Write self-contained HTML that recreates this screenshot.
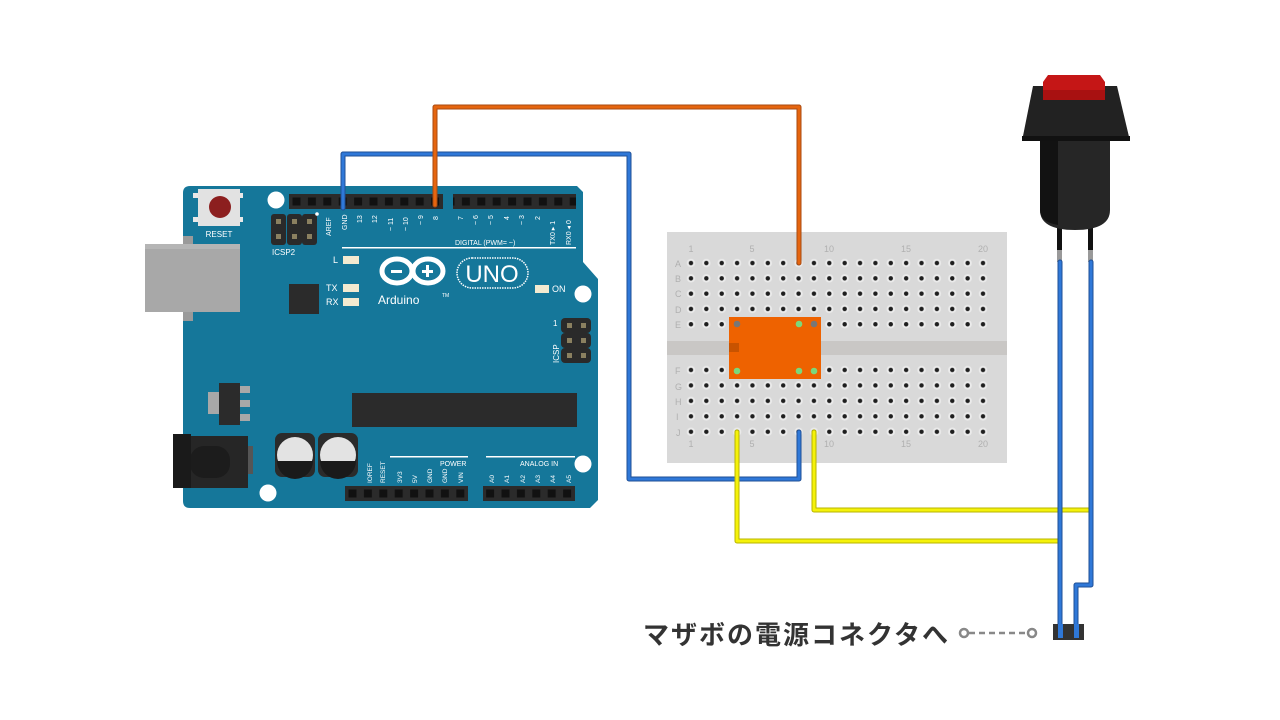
<!DOCTYPE html>
<html><head><meta charset="utf-8"><style>
html,body{margin:0;padding:0;background:#fff;}
svg{display:block}
text{font-family:"Liberation Sans",sans-serif}
</style></head><body>
<svg width="1280" height="720" viewBox="0 0 1280 720" xmlns="http://www.w3.org/2000/svg">
<defs>
<pattern id="hole" patternUnits="userSpaceOnUse" x="683.3" y="255.4" width="15.37" height="15.3">
<circle cx="7.68" cy="7.65" r="4.2" fill="#ebebeb"/><circle cx="7.68" cy="7.65" r="2.2" fill="#1e1e1e"/>
</pattern>
<pattern id="hole2" patternUnits="userSpaceOnUse" x="683.3" y="362.3" width="15.37" height="15.45">
<circle cx="7.68" cy="7.7" r="4.2" fill="#ebebeb"/><circle cx="7.68" cy="7.7" r="2.2" fill="#1e1e1e"/>
</pattern>
<pattern id="pin" patternUnits="userSpaceOnUse" x="289" y="194" width="15.4" height="15">
<rect x="3.5" y="3.5" width="8" height="8" fill="#111"/>
</pattern>
<pattern id="pinb" patternUnits="userSpaceOnUse" x="345" y="486" width="15.4" height="15">
<rect x="3.5" y="3.5" width="8" height="8" fill="#111"/>
</pattern>
</defs>

<!-- Arduino board -->
<path d="M190 186 H577 L583 192 V262 L598 279 V500 L590 508 H190 Q183 508 183 501 V193 Q183 186 190 186 Z" fill="#15779a"/>
<rect x="183" y="236" width="10" height="85" fill="#9a9a9a"/>
<rect x="145" y="244" width="95" height="68" fill="#a8a8a8"/>
<rect x="145" y="244" width="95" height="5" fill="#b5b5b5"/>

<circle cx="276" cy="200" r="8.5" fill="#fff"/>
<circle cx="583" cy="294" r="8.5" fill="#fff"/>
<circle cx="583" cy="464" r="8.5" fill="#fff"/>
<circle cx="268" cy="493" r="8.5" fill="#fff"/>

<rect x="193" y="193" width="5" height="5" fill="#e8e8e8"/><rect x="193" y="217" width="5" height="5" fill="#e8e8e8"/>
<rect x="238" y="193" width="5" height="5" fill="#e8e8e8"/><rect x="238" y="217" width="5" height="5" fill="#e8e8e8"/>
<rect x="198" y="189" width="42" height="37" fill="#e2e2e2"/>
<circle cx="220" cy="207" r="11" fill="#8c1f1f"/>
<text x="219" y="237" font-size="8" fill="#fff" text-anchor="middle">RESET</text>

<rect x="271" y="214" width="15" height="31" rx="3" fill="#2a2a2a"/>
<rect x="287" y="214" width="15" height="31" rx="3" fill="#2a2a2a"/>
<rect x="302" y="214" width="15" height="31" rx="3" fill="#2a2a2a"/>
<g fill="#8a8060"><rect x="276" y="219" width="5" height="5"/><rect x="292" y="219" width="5" height="5"/><rect x="307" y="219" width="5" height="5"/><rect x="276" y="234" width="5" height="5"/><rect x="292" y="234" width="5" height="5"/><rect x="307" y="234" width="5" height="5"/></g>
<circle cx="317" cy="214" r="1.8" fill="#fff"/>
<text x="272" y="255" font-size="8" fill="#fff">ICSP2</text>

<rect x="289" y="194" width="154" height="15" fill="#2b2b2b"/>
<rect x="289" y="194" width="154" height="15" fill="url(#pin)"/>
<rect x="453" y="194" width="123" height="15" fill="#2b2b2b"/>
<rect x="453" y="194" width="123" height="15" fill="url(#pin)" />
<g font-size="7" fill="#fff">
<text transform="translate(331,236) rotate(-90)">AREF</text>
<text transform="translate(347,230) rotate(-90)">GND</text>
<text transform="translate(362,223) rotate(-90)">13</text>
<text transform="translate(377,223) rotate(-90)">12</text>
<text transform="translate(393,231) rotate(-90)">~ 11</text>
<text transform="translate(408,231) rotate(-90)">~ 10</text>
<text transform="translate(423,225) rotate(-90)">~ 9</text>
<text transform="translate(438,220) rotate(-90)">8</text>
<text transform="translate(463,220) rotate(-90)">7</text>
<text transform="translate(478,225) rotate(-90)">~ 6</text>
<text transform="translate(493,225) rotate(-90)">~ 5</text>
<text transform="translate(509,220) rotate(-90)">4</text>
<text transform="translate(524,225) rotate(-90)">~ 3</text>
<text transform="translate(540,220) rotate(-90)">2</text>
<text transform="translate(555,245) rotate(-90)">TX0 ▸ 1</text>
<text transform="translate(571,245) rotate(-90)">RX0 ◂ 0</text>
<text x="455" y="245">DIGITAL (PWM=  ~)</text>
</g>
<rect x="342" y="247" width="234" height="1.5" fill="#fff"/>

<g font-size="9" fill="#fff"><text x="333" y="263">L</text><text x="326" y="291">TX</text><text x="326" y="305">RX</text><text x="552" y="292">ON</text></g>
<g fill="#f3ead0"><rect x="343" y="256" width="16" height="8"/><rect x="343" y="284" width="16" height="8"/><rect x="343" y="298" width="16" height="8"/><rect x="535" y="285" width="14" height="8"/></g>
<rect x="289" y="284" width="30" height="30" fill="#2b2b2b"/>

<g fill="none" stroke="#fff" stroke-width="5">
<ellipse cx="397" cy="271" rx="15" ry="12"/><ellipse cx="428" cy="271" rx="15" ry="12"/>
</g>
<rect x="391" y="270" width="11" height="3" fill="#fff"/>
<rect x="422" y="270" width="11" height="3" fill="#fff"/><rect x="426" y="265" width="3" height="12" fill="#fff"/>
<text x="378" y="304" font-size="12" fill="#fff">Arduino</text>
<text x="442" y="297" font-size="5" fill="#fff">TM</text>
<rect x="457" y="258" width="71" height="30" rx="15" fill="none" stroke="#fff" stroke-width="1.5" stroke-dasharray="1.5 1"/>
<text x="492" y="282" font-size="24" fill="#fff" text-anchor="middle">UNO</text>

<rect x="561" y="318" width="30" height="15" rx="4" fill="#2a2a2a"/>
<rect x="561" y="333" width="30" height="15" rx="4" fill="#2a2a2a"/>
<rect x="561" y="348" width="30" height="15" rx="4" fill="#2a2a2a"/>
<g fill="#8a8060"><rect x="567" y="323" width="5" height="5"/><rect x="581" y="323" width="5" height="5"/><rect x="567" y="338" width="5" height="5"/><rect x="581" y="338" width="5" height="5"/><rect x="567" y="353" width="5" height="5"/><rect x="581" y="353" width="5" height="5"/></g>
<text x="553" y="326" font-size="8" fill="#fff">1</text>
<text transform="translate(559,363) rotate(-90)" font-size="8" fill="#fff">ICSP</text>

<rect x="352" y="393" width="225" height="34" fill="#2b2b2b"/>

<rect x="208" y="392" width="12" height="22" fill="#a8a8a8"/>
<rect x="238" y="386" width="12" height="7" fill="#a8a8a8"/><rect x="238" y="400" width="12" height="7" fill="#a8a8a8"/><rect x="238" y="414" width="12" height="7" fill="#a8a8a8"/>
<rect x="219" y="383" width="21" height="42" fill="#2b2b2b"/>

<rect x="245" y="446" width="8" height="28" fill="#555"/>
<rect x="190" y="436" width="58" height="52" fill="#262626"/>
<rect x="190" y="446" width="40" height="32" rx="14" fill="#1c1c1c"/>
<rect x="173" y="434" width="18" height="54" fill="#1a1a1a"/>

<g>
<rect x="275" y="433" width="40" height="44" rx="7" fill="#2b2b2b"/>
<circle cx="295" cy="455" r="18" fill="#e3e3e3"/>
<path d="M277 455 H313 A18 18 0 0 1 277 455Z" transform="translate(0,6)" fill="#1a1a1a"/>
<rect x="318" y="433" width="40" height="44" rx="7" fill="#2b2b2b"/>
<circle cx="338" cy="455" r="18" fill="#e3e3e3"/>
<path d="M320 455 H356 A18 18 0 0 1 320 455Z" transform="translate(0,6)" fill="#1a1a1a"/>
</g>

<rect x="390" y="456" width="78" height="1.5" fill="#fff"/>
<rect x="486" y="456" width="89" height="1.5" fill="#fff"/>
<text x="440" y="466" font-size="7" fill="#fff">POWER</text>
<text x="520" y="466" font-size="7" fill="#fff">ANALOG IN</text>
<g font-size="6.5" fill="#fff">
<text transform="translate(372,483) rotate(-90)">IOREF</text>
<text transform="translate(385,483) rotate(-90)">RESET</text>
<text transform="translate(402,483) rotate(-90)">3V3</text>
<text transform="translate(417,483) rotate(-90)">5V</text>
<text transform="translate(432,483) rotate(-90)">GND</text>
<text transform="translate(447,483) rotate(-90)">GND</text>
<text transform="translate(463,483) rotate(-90)">VIN</text>
<text transform="translate(494,483) rotate(-90)">A0</text>
<text transform="translate(509,483) rotate(-90)">A1</text>
<text transform="translate(525,483) rotate(-90)">A2</text>
<text transform="translate(540,483) rotate(-90)">A3</text>
<text transform="translate(555,483) rotate(-90)">A4</text>
<text transform="translate(571,483) rotate(-90)">A5</text>
</g>
<rect x="345" y="486" width="123" height="15" fill="#2b2b2b"/>
<rect x="345" y="486" width="123" height="15" fill="url(#pinb)"/>
<rect x="483" y="486" width="92" height="15" fill="#2b2b2b"/>
<rect x="483" y="486" width="92" height="15" fill="url(#pinb)" transform="translate(-1,0)"/>

<rect x="667" y="232" width="340" height="231" fill="#d9d9d9"/>
<rect x="667" y="341" width="340" height="14" fill="#c9c7c5"/>
<rect x="684" y="256" width="307" height="76" fill="url(#hole)"/>
<rect x="684" y="363" width="307" height="77" fill="url(#hole2)"/>
<g font-size="9" fill="#b0b0b0">
<text x="691" y="252" text-anchor="middle">1</text><text x="752" y="252" text-anchor="middle">5</text><text x="829" y="252" text-anchor="middle">10</text><text x="906" y="252" text-anchor="middle">15</text><text x="983" y="252" text-anchor="middle">20</text>
<text x="691" y="447" text-anchor="middle">1</text><text x="752" y="447" text-anchor="middle">5</text><text x="829" y="447" text-anchor="middle">10</text><text x="906" y="447" text-anchor="middle">15</text><text x="983" y="447" text-anchor="middle">20</text>
<text x="675" y="267">A</text><text x="675" y="282">B</text><text x="675" y="297">C</text><text x="675" y="313">D</text><text x="675" y="328">E</text>
<text x="675" y="374">F</text><text x="675" y="390">G</text><text x="675" y="405">H</text><text x="676" y="420">I</text><text x="676" y="436">J</text>
</g>
<rect x="729" y="317" width="92" height="62" fill="#ee6200"/>
<rect x="729" y="343" width="10" height="9" fill="#c85300"/>
<circle cx="737" cy="324" r="3.3" fill="#777"/><circle cx="799" cy="324" r="3.3" fill="#7bd87b"/><circle cx="814" cy="324" r="3.3" fill="#777"/>
<circle cx="737" cy="371" r="3.3" fill="#7bd87b"/><circle cx="799" cy="371" r="3.3" fill="#7bd87b"/><circle cx="814" cy="371" r="3.3" fill="#7bd87b"/>

<rect x="1057" y="225" width="5" height="30" fill="#111"/><rect x="1088" y="225" width="5" height="30" fill="#111"/>
<rect x="1057" y="250" width="5" height="12" fill="#999"/><rect x="1088" y="250" width="5" height="12" fill="#999"/>
<path d="M1040 140 H1110 V210 Q1110 230 1075 230 Q1040 230 1040 210 Z" fill="#262626"/>
<path d="M1040 140 H1058 V225 Q1040 222 1040 210 Z" fill="#121212"/>
<path d="M1033 86 H1117 L1130 141 H1022 Z" fill="#222"/>
<rect x="1022" y="136" width="108" height="5" fill="#111"/>
<path d="M1048 75 H1100 L1105 82 V100 H1043 V82 Z" fill="#c51616"/>
<rect x="1043" y="90" width="62" height="10" fill="#a81111"/>

<g fill="none" stroke-linejoin="round" stroke-linecap="round">
<path d="M343 208 V154 H629 V479 H799 V432" stroke="#1f4f96" stroke-width="5"/>
<path d="M343 208 V154 H629 V479 H799 V432" stroke="#2f78d8" stroke-width="3"/>
<path d="M435 205 V107 H799 V263" stroke="#a84a10" stroke-width="5"/>
<path d="M435 205 V107 H799 V263" stroke="#e6650f" stroke-width="3"/>
<path d="M737 432 V541 H1060" stroke="#b8b400" stroke-width="5"/>
<path d="M737 432 V541 H1060" stroke="#f5f20a" stroke-width="3"/>
<path d="M814 432 V510 H1091" stroke="#b8b400" stroke-width="5"/>
<path d="M814 432 V510 H1091" stroke="#f5f20a" stroke-width="3"/>
<path d="M1060 262 V634" stroke="#1f4f96" stroke-width="5"/>
<path d="M1060 262 V634" stroke="#2f78d8" stroke-width="3"/>
<path d="M1091 262 V585 H1076 V634" stroke="#1f4f96" stroke-width="5"/>
<path d="M1091 262 V585 H1076 V634" stroke="#2f78d8" stroke-width="3"/>
</g>

<rect x="1053" y="624" width="31" height="16" fill="#333"/>
<rect x="1058" y="624" width="5" height="14" fill="#2f78d8"/><rect x="1074" y="624" width="5" height="14" fill="#2f78d8"/>
<circle cx="964" cy="633" r="4" fill="#fff" stroke="#888" stroke-width="2.5"/>
<circle cx="1032" cy="633" r="4" fill="#fff" stroke="#888" stroke-width="2.5"/>
<line x1="969" y1="633" x2="1027" y2="633" stroke="#888" stroke-width="2.5" stroke-dasharray="6 4"/>
<text x="643" y="644" font-size="26" font-weight="bold" fill="#333" letter-spacing="2" style="font-family:'Liberation Sans','Noto Sans CJK JP',sans-serif">マザボの電源コネクタへ</text>
</svg>
</body></html>
